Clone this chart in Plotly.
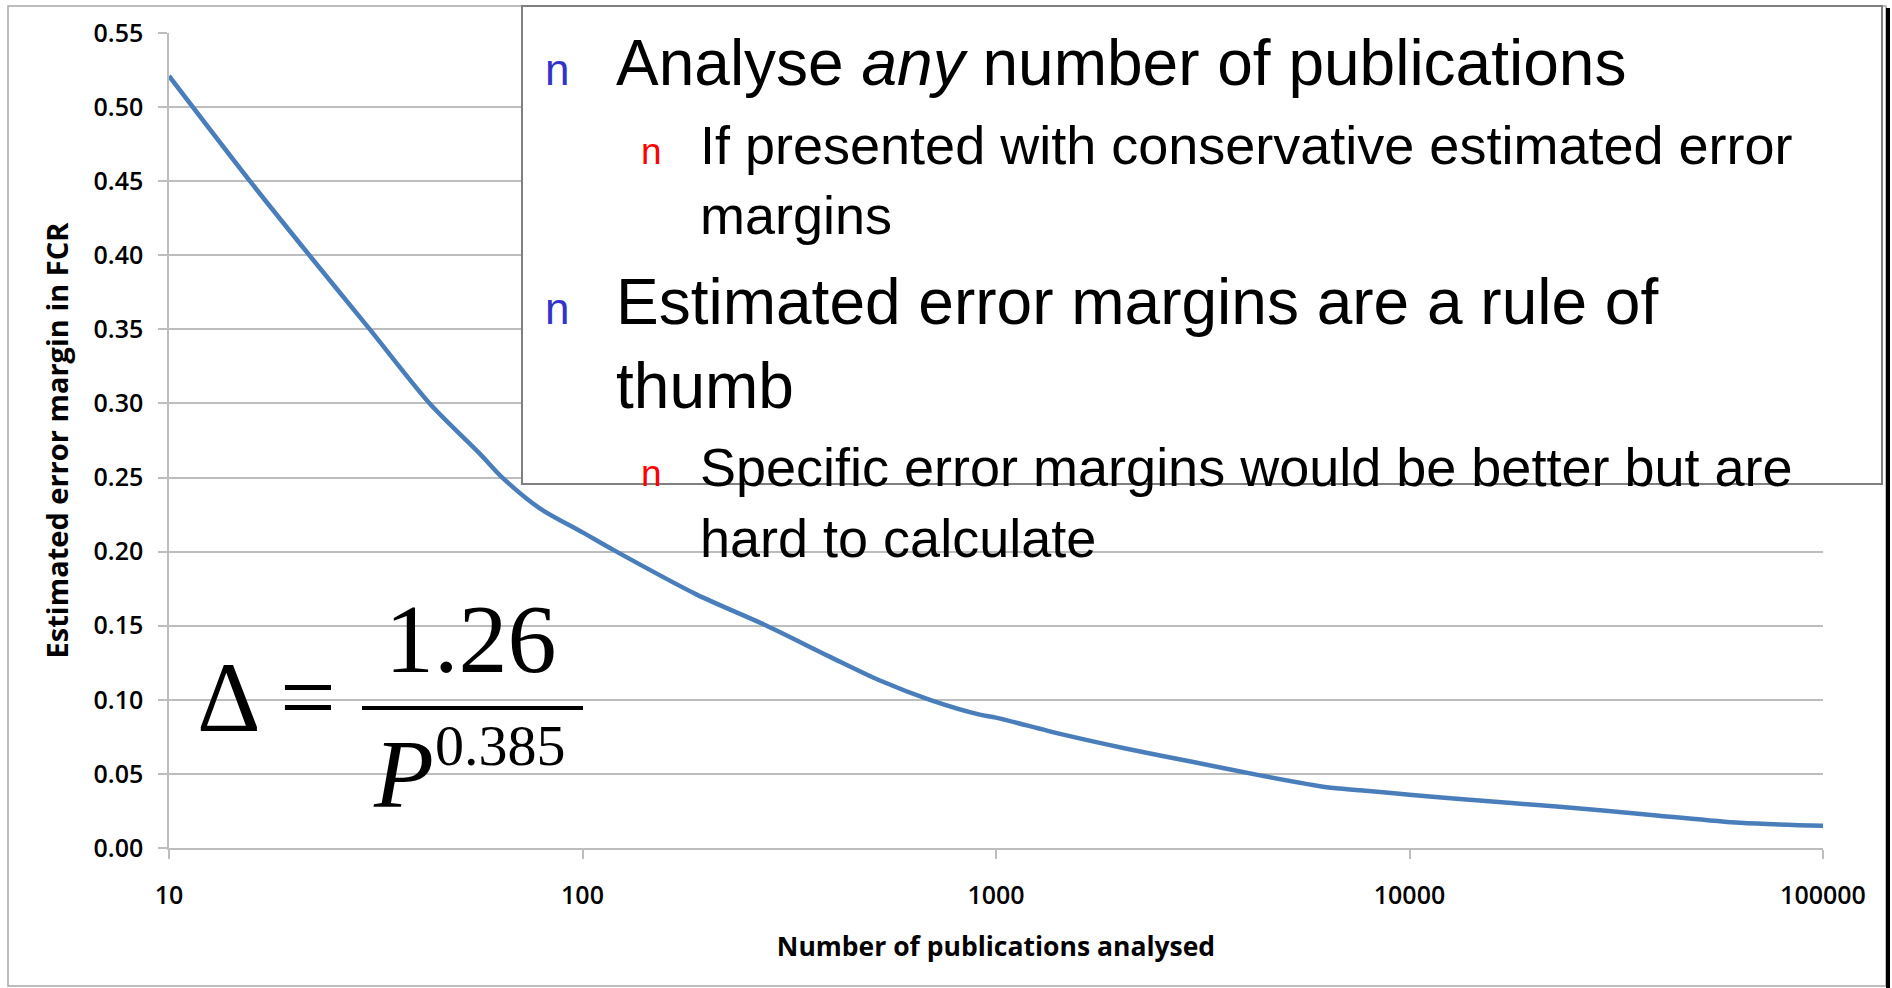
import plotly.graph_objects as go

# ---------------- data ----------------
publications = [10, 15.7, 22, 30.6, 42.7, 56.5, 64, 79, 100, 119, 189, 274, 397,
                524, 692, 914, 1000, 1429, 2071, 3001, 4350, 6310, 7590, 10000,
                13240, 22700, 39600, 63000, 100000]
error_margin = [0.521, 0.450, 0.399, 0.350, 0.300, 0.266, 0.250, 0.229, 0.213,
                0.201, 0.171, 0.151, 0.129, 0.113, 0.100, 0.090, 0.088, 0.077,
                0.067, 0.058, 0.049, 0.041, 0.039, 0.036, 0.033, 0.028, 0.022,
                0.017, 0.015]

x_tickvals = [10, 100, 1000, 10000, 100000]
x_ticktext = ["10", "100", "1000", "10000", "100000"]
y_tickvals = [0.00, 0.05, 0.10, 0.15, 0.20, 0.25, 0.30, 0.35, 0.40, 0.45, 0.50, 0.55]

x_title = "Number of publications analysed"
y_title = "Estimated error margin in FCR"

bullet_lines = [
    # (level, text)  level 0 = continuation of previous bullet
    (1, "Analyse <i>any</i> number of publications"),
    (2, "If presented with conservative estimated error"),
    (0, "margins"),
    (1, "Estimated error margins are a rule of"),
    (0, "thumb"),
    (2, "Specific error margins would be better but are"),
    (0, "hard to calculate"),
]

# ---------------- layout helpers ----------------
W, H = 1892, 988
X0, X1, Y0, Y1 = 169, 1823, 33, 848  # plot area in pixels


def px(x):
    return (x - X0) / (X1 - X0)


def py(y):
    return (Y1 - y) / (Y1 - Y0)


SANS = "Liberation Sans, Arial, sans-serif"
SERIF = "Liberation Serif, Times New Roman, serif"
CHART = "Open Sans, Calibri, sans-serif"

annotations = []


def text_at(text, x, baseline, size, family, color="black", descent=0.212,
            xanchor="left"):
    annotations.append(dict(
        text=text, x=px(x), y=py(baseline + descent * size),
        xref="paper", yref="paper", xanchor=xanchor, yanchor="bottom",
        showarrow=False, borderpad=0,
        font=dict(family=family, size=size, color=color)))


# bullet text block
level1_size, level2_size = 64, 54
baselines = [86, 165, 235, 325, 409, 487, 558]
prev_level = 1
for (level, txt), base in zip(bullet_lines, baselines):
    lvl = level if level else prev_level
    if lvl == 1:
        if level:
            text_at("n", 544, base, 44, SANS, "#3333CC")
        text_at(txt, 615, base, level1_size, SANS)
    else:
        if level:
            text_at("n", 640, base, 37, SANS, "#FF0000")
        text_at(txt, 699, base, level2_size, SANS)
    prev_level = lvl

# formula
text_at("Δ =", 196, 732, 99, SERIF, descent=0.216)
text_at("1.26", 471, 673, 98, SERIF, descent=0.216, xanchor="center")
text_at("<i>P</i>", 372, 808, 98, SERIF, descent=0.216)
text_at("0.385", 434, 766, 58, SERIF, descent=0.216)

shapes = [
    # outer frame
    dict(type="rect", xref="paper", yref="paper",
         x0=px(8), x1=px(1886), y0=py(986), y1=py(6),
         line=dict(color="#a8a8a8", width=1.5), layer="below"),
    # right black edge
    dict(type="line", xref="paper", yref="paper",
         x0=px(1888), x1=px(1888), y0=py(988), y1=py(8),
         line=dict(color="black", width=4), layer="above"),
    # text box
    dict(type="rect", xref="paper", yref="paper",
         x0=px(522), x1=px(1882), y0=py(484), y1=py(6),
         fillcolor="white", line=dict(color="#808080", width=2), layer="above"),
    # fraction bar
    dict(type="line", xref="paper", yref="paper",
         x0=px(362), x1=px(583), y0=py(708), y1=py(708),
         line=dict(color="black", width=4), layer="above"),
]

fig = go.Figure()
fig.add_trace(go.Scatter(
    x=publications, y=error_margin, mode="lines",
    line=dict(color="#4A7EBB", width=4.5, shape="spline", smoothing=0.8),
    showlegend=False, hoverinfo="x+y"))

grid = "#bdbdbd"
fig.update_layout(
    width=W, height=H,
    margin=dict(l=X0, r=W - X1, t=Y0, b=H - Y1, autoexpand=False),
    paper_bgcolor="white", plot_bgcolor="white",
    showlegend=False,
    xaxis=dict(
        type="log", range=[1, 5],
        tickvals=x_tickvals, ticktext=x_ticktext,
        showgrid=False, zeroline=False,
        showline=True, linecolor=grid, linewidth=1.5,
        ticks="outside", ticklen=9, tickcolor=grid, tickwidth=1.5,
        ticklabelstandoff=15,
        tickfont=dict(family=CHART, size=25, color="black", weight=600),
        title=dict(text=x_title, standoff=28,
                   font=dict(family=CHART, size=26.5, color="black", weight="bold")),
        automargin=False,
    ),
    yaxis=dict(
        range=[0, 0.55], tickvals=y_tickvals, tickformat=".2f",
        showgrid=True, gridcolor=grid, gridwidth=1.5, zeroline=False,
        showline=True, linecolor=grid, linewidth=1.5,
        ticks="outside", ticklen=9, tickcolor=grid, tickwidth=1.5,
        ticklabelstandoff=10,
        tickfont=dict(family=CHART, size=25, color="black", weight=600),
        title=dict(text=y_title, standoff=16,
                   font=dict(family=CHART, size=29, color="black", weight="bold")),
        automargin=False,
    ),
    annotations=annotations,
    shapes=shapes,
)

fig.write_html("out.html", config={"displayModeBar": False},
               post_script="document.body.style.margin='0';document.body.style.overflow='hidden';")
